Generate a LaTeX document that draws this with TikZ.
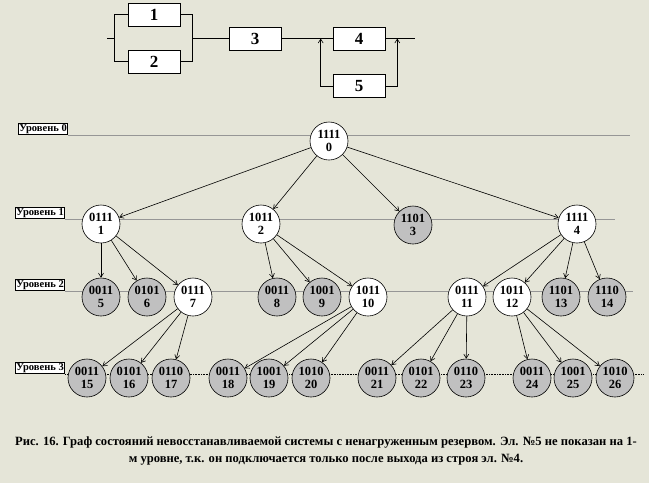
\documentclass[tikz,border=0pt]{standalone}
\usepackage{fontspec}
\setmainfont{Liberation Serif}
\usetikzlibrary{positioning,arrows.meta}
\definecolor{paper}{RGB}{229,229,216}
\definecolor{fail}{RGB}{192,192,192}
\definecolor{lvgray}{RGB}{150,150,150}

\begin{document}
\begin{tikzpicture}[x=1pt,y=-1pt,>={Straight Barb[length=4pt,width=5pt]},line width=0.6pt,
    st/.style={circle,draw,fill=white,minimum size=38pt,inner sep=0pt,align=center,
      font=\fontsize{12.5}{13}\selectfont\bfseries},
    dead/.style={st,fill=fail},
    blk/.style={draw,fill=white,minimum width=52pt,minimum height=23pt,inner sep=0pt,
      font=\fontsize{17}{17}\selectfont\bfseries},
    lvl/.style={draw,fill=white,inner sep=1pt,anchor=south west,
      font=\fontsize{10.5}{10.5}\selectfont\bfseries},
    lvline/.style={draw=lvgray,line width=0.8pt}]
    \fill[paper] (0,0) rectangle (649,483);
    \useasboundingbox (0,0) rectangle (649,483);

    % reliability block diagram
    \node[blk] (b_1) at (154,14.5) {1};
    \node[blk] (b_2) at (154,61.5) {2};
    \node[blk] (b_3) at (255,38.5) {3};
    \node[blk] (b_4) at (359,38.5) {4};
    \node[blk] (b_5) at (359,86) {5};
    \coordinate (in) at (107,38.5);
    \coordinate (out) at (415,38.5);
    \draw (b_1.west) -- ++(-13,0) coordinate (jl) |- (b_2.west);
    \draw (in) -- (jl |- in);
    \draw (b_1.east) -- ++(12,0) coordinate (jr) |- (b_2.east);
    \draw (jr |- b_3.west) -- (b_3.west);
    \draw (b_3.east) -- (b_4.west);
    \draw (b_4.east) -- (out);
    \draw[->] (b_5.west) -- ++(-12,0) coordinate (sl) -- (sl |- b_4.west);
    \draw[->] (b_5.east) -- ++(12,0) coordinate (sr) -- (sr |- b_4.east);

    % levels
    \node[lvl] (u_0) at (18,135) {Уровень 0};
    \node[lvl] (u_1) at (15,219) {Уровень 1};
    \node[lvl] (u_2) at (15,291) {Уровень 2};
    \node[lvl] (u_3) at (15,374) {Уровень 3};
    \coordinate (e_0) at (630,135);
    \coordinate (e_1) at (615,219);
    \coordinate (e_2) at (633,291);
    \coordinate (e_3) at (643,374);
    \draw[lvline] (u_0.south east) -- (e_0);
    \draw[lvline] (u_1.south east) -- (e_1);
    \draw[lvline] (u_2.south east) -- (e_2);
    \draw[densely dotted] (u_3.south east) -- (e_3);

    % state graph
    \node[st] (s_0) at (329,141) {1111\\0};
    \node[st] (s_1) at (101,224) {0111\\1};
    \node[st] (s_2) at (261,224) {1011\\2};
    \node[dead] (s_3) at (413,225) {1101\\3};
    \node[st] (s_4) at (577,224) {1111\\4};
    \node[dead] (s_5) at (101,297) {0011\\5};
    \node[dead] (s_6) at (147,297) {0101\\6};
    \node[st] (s_7) at (193,297) {0111\\7};
    \node[dead] (s_8) at (277,297) {0011\\8};
    \node[dead] (s_9) at (322,297) {1001\\9};
    \node[st] (s_10) at (368,297) {1011\\10};
    \node[st] (s_11) at (467,297) {0111\\11};
    \node[st] (s_12) at (512,297) {1011\\12};
    \node[dead] (s_13) at (561,297) {1101\\13};
    \node[dead] (s_14) at (607,297) {1110\\14};
    \node[dead] (s_15) at (87,378) {0011\\15};
    \node[dead] (s_16) at (129,378) {0101\\16};
    \node[dead] (s_17) at (171,378) {0110\\17};
    \node[dead] (s_18) at (228,378) {0011\\18};
    \node[dead] (s_19) at (269,378) {1001\\19};
    \node[dead] (s_20) at (311,378) {1010\\20};
    \node[dead] (s_21) at (377,378) {0011\\21};
    \node[dead] (s_22) at (421,378) {0101\\22};
    \node[dead] (s_23) at (466,378) {0110\\23};
    \node[dead] (s_24) at (532,378) {0011\\24};
    \node[dead] (s_25) at (573,378) {1001\\25};
    \node[dead] (s_26) at (615,378) {1010\\26};
    \path[->]
    (s_0) edge (s_1) edge (s_2) edge (s_3) edge (s_4)
    (s_1) edge (s_5) edge (s_6) edge (s_7)
    (s_2) edge (s_8) edge (s_9) edge (s_10)
    (s_4) edge (s_11) edge (s_12) edge (s_13) edge (s_14)
    (s_7) edge (s_15) edge (s_16) edge (s_17)
    (s_10) edge (s_18) edge (s_19) edge (s_20)
    (s_11) edge (s_21) edge (s_22) edge (s_23)
    (s_12) edge (s_24) edge (s_25) edge (s_26);

    % caption
    \node[align=center,font=\fontsize{12.6}{17}\selectfont\bfseries] (cap) at (326,451)
    {Рис. 16. Граф состояний невосстанавливаемой системы с ненагруженным резервом. Эл. №5 не показан на 1-\\
    м уровне, т.к. он подключается только после выхода из строя эл. №4.};
\end{tikzpicture}
\end{document}
